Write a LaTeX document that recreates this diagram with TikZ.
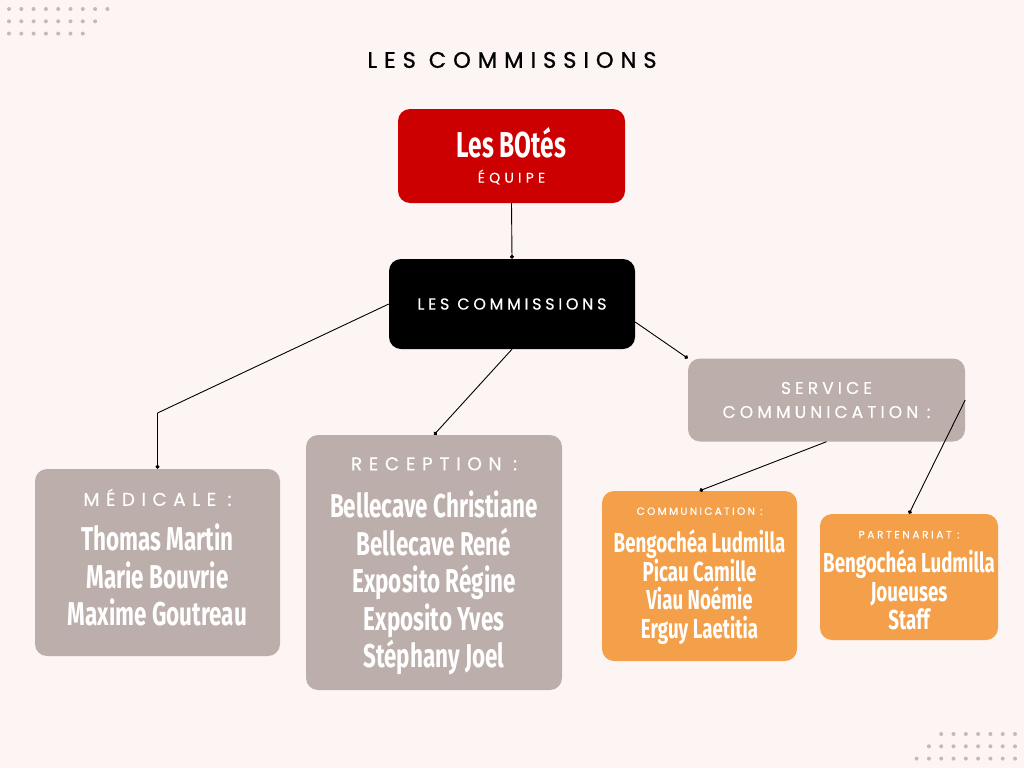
\documentclass[tikz,border=0pt]{standalone}
\usepackage{fontspec}
\usepackage{xcolor}
\usetikzlibrary{arrows.meta}
\newfontfamily\namefont[FakeStretch=0.68]{Fira Sans}
\newfontfamily\headfont{Poppins}
\definecolor{bgpink}{HTML}{FDF5F3}
\definecolor{boxgrey}{HTML}{BCAFAB}
\definecolor{boxred}{HTML}{CC0000}
\definecolor{boxorange}{HTML}{F4A04A}
\definecolor{dotgrey}{HTML}{C7B9B7}
% size, baselineskip, letter spacing
\newcommand{\head}[3]{\headfont\mdseries\addfontfeature{LetterSpace=#3,FakeBold=0.4}\fontsize{#1}{#2}\selectfont}
\newcommand{\bignames}{\namefont\bfseries\fontsize{33}{37.5}\selectfont}
\newcommand{\smallnames}{\namefont\bfseries\fontsize{27.5}{28.7}\selectfont}

\begin{document}
\begin{tikzpicture}[x=1pt, y=-1pt,
    box/.style={rounded corners=12pt, align=center, inner sep=0pt, text=white},
    link/.style={-{Circle[length=4pt]}, line width=0.9pt}]
        \useasboundingbox[fill=bgpink] (0,0) rectangle (1024,768);

        % dots in the corners
        \foreach \n [count=\r] in {9,8,7}
            \foreach \i in {1,...,\n}
                \fill[dotgrey] ({9+12.3*(\i-1)}, {9+12.3*(\r-1)}) circle (2pt);
        \foreach \n [count=\r] in {7,8,9}
            \foreach \i in {1,...,\n}
                \fill[dotgrey] ({1015-12.3*(\i-1)}, {734+12.3*(\r-1)}) circle (2pt);

        \node[font=\headfont\addfontfeature{LetterSpace=31,FakeBold=1}\fontsize{22.5}{22.5}\selectfont] (title) at (512, 60) {LES COMMISSIONS};

        \node[box, fill=boxred, minimum width=227pt, minimum height=94pt,
              font=\namefont\bfseries\fontsize{36}{25}\selectfont] (botes) at (511.5, 156)
            {Les BOtés\\{\head{14}{14}{30}ÉQUIPE}};
        \node[box, fill=black, minimum width=246pt, minimum height=90pt, font=\head{16}{16}{23}] (commissions) at (512, 304)
            {LES COMMISSIONS};
        \node[box, fill=boxgrey, minimum width=277pt, minimum height=83pt, font=\head{17}{24}{24}] (service) at (826.5, 400)
            {SERVICE\\COMMUNICATION :};

        \node[box, fill=boxgrey, minimum width=245pt, minimum height=187pt, font=\bignames, text depth=10.5pt] (medicale) at (157.5, 562.5)
            {{\head{18.5}{18.5}{35}MÉDICALE :}\\[7.5pt]
             Thomas Martin\\Marie Bouvrie\\Maxime Goutreau};
        \node[box, fill=boxgrey, minimum width=256pt, minimum height=255pt, font=\bignames, text depth=-6pt] (reception) at (434, 562.5)
            {{\head{18.5}{18.5}{36}RECEPTION :}\\[10pt]
             Bellecave Christiane\\Bellecave René\\Exposito Régine\\Exposito Yves\\Stéphany Joel};
        \node[box, fill=boxorange, minimum width=195pt, minimum height=170pt, font=\smallnames] (communication) at (699.5, 576)
            {{\head{10.5}{10.5}{22}COMMUNICATION :}\\[8.8pt]
             Bengochéa Ludmilla\\Picau Camille\\Viau Noémie\\Erguy Laetitia};
        \node[box, fill=boxorange, minimum width=178pt, minimum height=126pt, font=\smallnames] (partenariat) at (909, 577)
            {{\head{10.5}{10.5}{25}\rule{0pt}{14.5pt}PARTENARIAT :}\\[5.3pt]
             Bengochéa Ludmilla\\Joueuses\\Staff};

        \coordinate (medbend) at (157.5, 413);

        \draw[link] (botes.south) -- (commissions.north);
        \draw[link] (commissions.west) -- (medbend) -- (medicale.north);
        \draw[link] (commissions.south) -- (reception.north);
        \draw[link] ([yshift=-18pt]commissions.east) -- (service.north west);
        \draw[link] (service.south) -- (communication.north);
        \draw[link] (service.east) -- (partenariat.north);
    \end{tikzpicture}
\end{document}
